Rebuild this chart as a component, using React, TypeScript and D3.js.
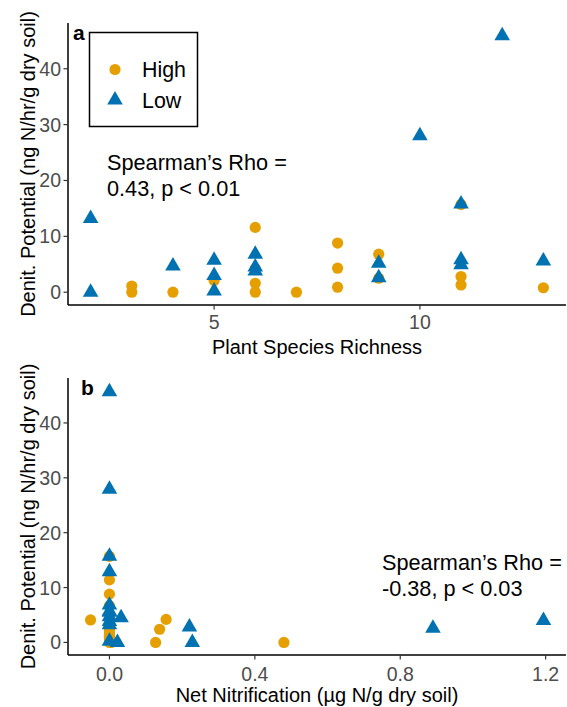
import React from "react";
import * as d3 from "d3";

// Panel a: Plant species richness vs denitrification potential
const richHighX = [3, 3, 4, 5, 6, 6, 6, 6, 7, 8, 8, 8, 9, 9, 11, 11, 11, 13];
const richHighY = [1.1, 0, 0, 2.1, 11.6, 4.2, 1.6, 0, 0, 8.8, 4.3, 0.9, 6.8, 2.5, 15.7, 2.8, 1.3, 0.8];
const richLowX = [2, 2, 4, 5, 5, 5, 6, 6, 6, 9, 9, 10, 11, 11, 11, 12, 13];
const richLowY = [13.2, 0, 4.7, 5.7, 3.0, 0.2, 6.8, 4.5, 3.8, 5.2, 2.6, 28.0, 15.8, 5.8, 4.9, 45.9, 5.6];

// Panel b: Net nitrification vs denitrification potential
const nitHighX = [-0.052, 0.127, 0.138, 0.156, 0.48, 0, 0, 0.005, 0, 0, 0, 0, 0, 0, 0, 0, 0, 0];
const nitHighY = [4.1, 0, 2.4, 4.2, 0, 1.1, 0, 0, 2.1, 11.4, 1.6, 8.8, 0.9, 6.7, 2.7, 15.7, 1.3, 0.8];
const nitLowX = [0, 0, 0, 0, 0, 0, 0, 0, 0, 0, 0.032, 0.022, 0, 0.22, 0.228, 0.89, 1.194];
const nitLowY = [45.7, 27.9, 15.7, 12.9, 6.8, 5.5, 4.7, 3.8, 3.2, 0.2, 4.5, 0, 5.7, 2.8, 0, 2.6, 4.0];

const yTicks = [0, 10, 20, 30, 40];
const richTicks = [5, 10];
const nitTicks = [0, 0.4, 0.8, 1.2];
const nitTickLabels = ["0.0", "0.4", "0.8", "1.2"];

const ORANGE = "#E69F00";
const BLUE = "#0072B2";
const FONT = "'Liberation Sans', Arial, sans-serif";
const triPath = d3.symbol(d3.symbolTriangle).size(105)() as string;

type PanelProps = {
  letter: string;
  xDomain: [number, number];
  top: number;
  bottom: number;
  hx: number[];
  hy: number[];
  lx: number[];
  ly: number[];
  xTicks: number[];
  xTickLabels: string[];
  xLabel: string;
  rho: string[];
  rhoX: number;
  rhoY: number;
  letterX: number;
  legend: boolean;
  tickGap: number;
  titleGap: number;
};

function Panel(p: PanelProps) {
  const left = 68;
  const right = 566;
  const x = d3.scaleLinear().domain(p.xDomain).range([left, right]);
  const y = d3.scaleLinear().domain([-2.29, 48.19]).range([p.bottom, p.top]);
  const mid = (p.top + p.bottom) / 2;
  return (
    <g fontFamily={FONT}>
      {/* axes */}
      <line x1={left} x2={left} y1={p.top} y2={p.bottom} stroke="#000" strokeWidth={1.5} />
      <line x1={left} x2={right} y1={p.bottom} y2={p.bottom} stroke="#000" strokeWidth={1.5} />
      {yTicks.map((t) => (
        <g key={"y" + t}>
          <line x1={left - 4.5} x2={left} y1={y(t)} y2={y(t)} stroke="#333" strokeWidth={1.2} />
          <text x={left - 7} y={y(t)} dy="0.36em" textAnchor="end" fontSize={19.5} fill="#4D4D4D">
            {t}
          </text>
        </g>
      ))}
      {p.xTicks.map((t, i) => (
        <g key={"x" + t}>
          <line x1={x(t)} x2={x(t)} y1={p.bottom} y2={p.bottom + 4.5} stroke="#333" strokeWidth={1.2} />
          <text x={x(t)} y={p.bottom + p.tickGap} textAnchor="middle" fontSize={19.5} fill="#4D4D4D">
            {p.xTickLabels[i]}
          </text>
        </g>
      ))}
      <text x={(left + right) / 2} y={p.bottom + p.tickGap + p.titleGap} textAnchor="middle" fontSize={20} fill="#000">
        {p.xLabel}
      </text>
      <text
        transform={`translate(35,${mid}) rotate(-90)`}
        textAnchor="middle"
        fontSize={20}
        fill="#000"
      >
        Denit. Potential (ng N/hr/g dry soil)
      </text>
      {/* points */}
      {p.hx.map((v, i) => (
        <circle key={"h" + i} cx={x(v)} cy={y(p.hy[i])} r={5.6} fill={ORANGE} />
      ))}
      {p.lx.map((v, i) => (
        <path key={"l" + i} d={triPath} transform={`translate(${x(v)},${y(p.ly[i])})`} fill={BLUE} />
      ))}
      {/* panel letter */}
      <text x={p.letterX} y={p.top + 17} fontSize={21} fontWeight="bold" fill="#000">
        {p.letter}
      </text>
      {/* Spearman text */}
      {p.rho.map((s, i) => (
        <text key={"r" + i} x={p.rhoX} y={p.rhoY + i * 26} fontSize={21.7} fill="#000">
          {s}
        </text>
      ))}
      {p.legend && (
        <g>
          <rect x={89.5} y={32.5} width={108} height={94} fill="#fff" stroke="#000" strokeWidth={1.5} />
          <circle cx={115} cy={69.5} r={5.6} fill={ORANGE} />
          <text x={142} y={77} fontSize={21.4} fill="#000">High</text>
          <path d={triPath} transform="translate(115,100)" fill={BLUE} />
          <text x={142} y={108} fontSize={21.4} fill="#000">Low</text>
        </g>
      )}
    </g>
  );
}

export default function App() {
  return (
    <svg width={567} height={707} style={{ position: "absolute", left: 0, top: 0, background: "#fff" }}>
      <rect width={567} height={707} fill="#fff" />
      <Panel
        letter="a"
        xDomain={[1.45, 13.55]}
        top={23}
        bottom={305}
        hx={richHighX}
        hy={richHighY}
        lx={richLowX}
        ly={richLowY}
        xTicks={richTicks}
        xTickLabels={richTicks.map(String)}
        xLabel="Plant Species Richness"
        rho={["Spearman’s Rho =", "0.43, p < 0.01"]}
        rhoX={107}
        rhoY={170}
        letterX={73}
        legend={true}
        tickGap={24}
        titleGap={25}
      />
      <Panel
        letter="b"
        xDomain={[-0.114, 1.256]}
        top={378}
        bottom={655}
        hx={nitHighX}
        hy={nitHighY}
        lx={nitLowX}
        ly={nitLowY}
        xTicks={nitTicks}
        xTickLabels={nitTickLabels}
        xLabel="Net Nitrification (µg N/g dry soil)"
        rho={["Spearman’s Rho =", "-0.38, p < 0.03"]}
        rhoX={382}
        rhoY={570}
        letterX={81}
        legend={false}
        tickGap={26}
        titleGap={21}
      />
    </svg>
  );
}
